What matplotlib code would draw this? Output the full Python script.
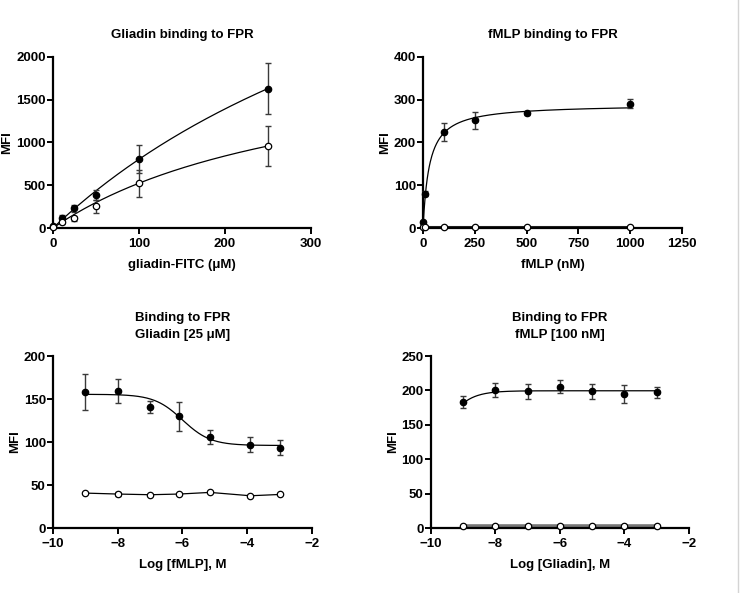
import numpy as np
import matplotlib
matplotlib.use("Agg")
import matplotlib.pyplot as plt
from matplotlib.lines import Line2D

plt.rcParams['font.family'] = ['Liberation Sans', 'DejaVu Sans']
plt.rcParams['font.weight'] = 'bold'
plt.rcParams['axes.labelweight'] = 'bold'
plt.rcParams['axes.titleweight'] = 'bold'

# panel A: gliadin binding
glia_x = [0, 10, 25, 50, 100, 250]
glia_fill = [20, 116, 233, 388, 804, 1631]
glia_fill_err = [10, 40, 40, 60, 163, 295]
glia_open = [15, 70, 116, 252, 524, 959]
glia_open_err = [8, 20, 30, 80, 160, 237]
glia_fill_fit = (5206, 548)   # Bmax, Kd
glia_open_fit = (2148, 310)

# panel B: fMLP binding
fmlp_x = [0, 10, 100, 250, 500, 1000]
fmlp_fill = [13, 80, 224, 252, 268, 291]
fmlp_fill_err = [3, 6, 21, 20, 4, 10]
fmlp_open = [2, 2, 2, 2, 2, 2]
fmlp_fill_fit = (289.6, 30.5)

# panel C: gliadin 25 uM vs log fMLP
compC_x = [-9, -8, -7, -6.1, -5.15, -3.9, -3]
compC_fill = [158.6, 159.4, 141, 130, 106, 97, 93.6]
compC_fill_err = [21, 14, 7, 17, 8, 9, 8.5]
compC_open = [40.6, 39.5, 38.7, 39.5, 41.4, 37.5, 39]
compC_open_err = [0, 2, 0, 0, 0, 0, 0]
compC_fit = (96, 155.5, -6.0, -1.0)   # bottom, top, logEC50, hill

# panel D: fMLP 100 nM vs log gliadin
compD_x = [-9, -8, -7, -6, -5, -4, -3]
compD_fill = [183.3, 200.7, 199, 205.5, 199, 195, 197]
compD_fill_err = [9, 10, 11, 9, 11, 13, 8.5]
compD_open = [3, 3, 3, 3, 3, 3, 3]
compD_fit = (0, 199.5, -10.0, 1.0)


def hyperbola(x, bmax, kd):
    return bmax * x / (kd + x)


def sigmoid(x, bottom, top, logec, hill):
    return bottom + (top - bottom) / (1 + 10 ** ((logec - x) * hill))


def style_axes(ax, xlim, xticks, ylim, yticks, xlabel, title, pad):
    ax.set_xlim(*xlim)
    ax.set_ylim(*ylim)
    ax.set_xticks(xticks)
    ax.set_yticks(yticks)
    ax.spines['top'].set_visible(False)
    ax.spines['right'].set_visible(False)
    ax.spines['left'].set_linewidth(1.6)
    ax.spines['bottom'].set_linewidth(1.6)
    ax.tick_params(direction='out', length=4, width=1.4, labelsize=9.5)
    ax.tick_params(axis='x', pad=3.5)
    ax.tick_params(axis='y', pad=1.2)
    for lab in ax.get_xticklabels() + ax.get_yticklabels():
        lab.set_fontweight('bold')
    ax.set_xlabel(xlabel, fontsize=9.5, labelpad=6)
    ax.set_ylabel('MFI', fontsize=9.5, labelpad=2)
    ax.set_title(title, fontsize=9.5, pad=pad, linespacing=1.55)
    for sp in ax.spines.values():
        sp.set_clip_on(False)


def points(ax, x, y, err, filled):
    ax.errorbar(x, y, yerr=err, fmt='none', ecolor='#3a3a3a', elinewidth=1,
                capsize=2.5, capthick=1, zorder=3, clip_on=False)
    ax.plot(x, y, 'o', ms=4.6, mec='black', mew=0.9,
            mfc='black' if filled else 'white', zorder=4, clip_on=False)


fig = plt.figure(figsize=(7.41, 5.93), dpi=100)
ax1 = fig.add_axes([0.0715, 0.6155, 0.348, 0.2884])
ax2 = fig.add_axes([0.5709, 0.6155, 0.3495, 0.2884])
ax3 = fig.add_axes([0.0715, 0.1096, 0.3495, 0.290])
ax4 = fig.add_axes([0.5816, 0.1096, 0.348, 0.290])

# A
xs = np.linspace(0, 250, 200)
ax1.plot(xs, hyperbola(xs, *glia_fill_fit), color='black', lw=0.9, zorder=2)
ax1.plot(xs, hyperbola(xs, *glia_open_fit), color='black', lw=0.9, zorder=2)
points(ax1, glia_x, glia_fill, glia_fill_err, True)
points(ax1, glia_x, glia_open, glia_open_err, False)
style_axes(ax1, (0, 300), [0, 100, 200, 300], (0, 2000),
           [0, 500, 1000, 1500, 2000], 'gliadin-FITC (\u03bcM)',
           'Gliadin binding to FPR', 14)

# B
xs = np.linspace(0, 1000, 400)
ax2.plot(xs, hyperbola(xs, *fmlp_fill_fit), color='black', lw=0.9, zorder=2)
ax2.plot(fmlp_x, fmlp_open, color='#222222', lw=2.2, zorder=2)
points(ax2, fmlp_x, fmlp_fill, fmlp_fill_err, True)
points(ax2, fmlp_x, fmlp_open, None, False)
style_axes(ax2, (0, 1250), [0, 250, 500, 750, 1000, 1250], (0, 400),
           [0, 100, 200, 300, 400], 'fMLP (nM)', 'fMLP binding to FPR', 14)

# C
xs = np.linspace(-9, -3, 200)
ax3.plot(xs, sigmoid(xs, *compC_fit), color='black', lw=0.9, zorder=2)
ax3.plot(compC_x, compC_open, color='black', lw=0.9, zorder=2)
points(ax3, compC_x, compC_fill, compC_fill_err, True)
points(ax3, compC_x, compC_open, compC_open_err, False)
style_axes(ax3, (-10, -2), [-10, -8, -6, -4, -2], (0, 200),
           [0, 50, 100, 150, 200], 'Log [fMLP], M',
           'Binding to FPR\nGliadin [25 \u03bcM]', 13)

# D
ax4.plot(xs, sigmoid(xs, *compD_fit), color='black', lw=0.9, zorder=2)
ax4.plot(compD_x, compD_open, color='#777777', lw=2.6, zorder=2)
points(ax4, compD_x, compD_fill, compD_fill_err, True)
points(ax4, compD_x, compD_open, None, False)
style_axes(ax4, (-10, -2), [-10, -8, -6, -4, -2], (0, 250),
           [0, 50, 100, 150, 200, 250], 'Log [Gliadin], M',
           'Binding to FPR\nfMLP [100 nM]', 13)

# thin grey border line at the right edge
fig.add_artist(Line2D([738 / 741, 738 / 741], [0, 1], color='#d4d4d4', lw=1))

fig.savefig('out.png', dpi=100)
